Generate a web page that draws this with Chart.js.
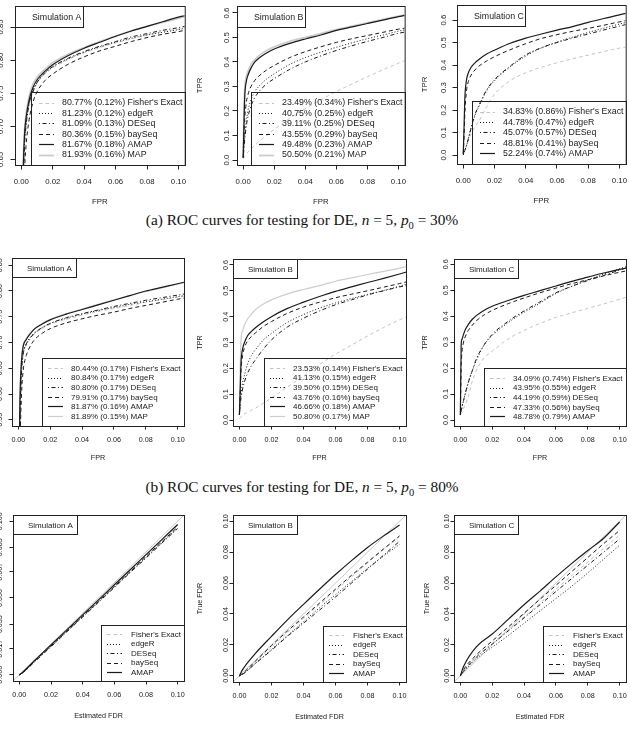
<!DOCTYPE html>
<html>
<head>
<meta charset="utf-8">
<script src="https://cdn.jsdelivr.net/npm/chart.js@4.4.1/dist/chart.umd.min.js"></script>
<style>
html, body { margin: 0; padding: 0; background: #fff; }
body { width: 630px; height: 732px; position: relative; overflow: hidden; }
canvas { position: absolute; }
.cap { position: absolute; left: 0; width: 604px; text-align: center; font-family: "Liberation Serif", "DejaVu Serif", serif; font-size: 15.3px; color: #111; line-height: 17px; }
.cap sub { font-size: 10.5px; line-height: 0; }
</style>
</head>
<body>
<div class="cap" style="top:211px">(a) ROC curves for testing for DE, <i>n</i> = 5, <i>p</i><sub>0</sub> = 30%</div>
<div class="cap" style="top:478px">(b) ROC curves for testing for DE, <i>n</i> = 5, <i>p</i><sub>0</sub> = 80%</div>
<div id="wrap"></div>
<script>
// methods, in legend order
var methods = ["Fisher's Exact", "edgeR", "DESeq", "baySeq", "AMAP", "MAP"];

// x values (FPR) the ROC curves are read at
var fprGrid = [0, 0.0005, 0.001, 0.002, 0.003, 0.005, 0.0075, 0.01, 0.015, 0.02, 0.03, 0.04, 0.05, 0.06, 0.07, 0.08, 0.09, 0.1, 0.104];
// x values (estimated FDR) for the FDR curves
var fdrGrid = [0, 0.002, 0.01, 0.02, 0.03, 0.04, 0.05, 0.06, 0.07, 0.08, 0.09, 0.1];

// tick labels
var xTicks = ["0.00", "0.02", "0.04", "0.06", "0.08", "0.10"];
var tprTicksA30 = ["0.65", "0.70", "0.75", "0.80", "0.85"];
var tprTicksA80 = ["0.55", "0.60", "0.65", "0.70", "0.75", "0.80", "0.85"];
var tprTicks = ["0.0", "0.1", "0.2", "0.3", "0.4", "0.5", "0.6"];
var fdrTicksA = ["0.000", "0.017", "0.033", "0.050", "0.067", "0.083", "0.100"];
var fdrTicks = ["0.00", "0.02", "0.04", "0.06", "0.08", "0.10"];

// (a) p0 = 30%
var rocA30 = {
  "Fisher's Exact": [0.40, 0.50, 0.59, 0.67, 0.70, 0.733, 0.752, 0.765, 0.779, 0.788, 0.801, 0.811, 0.819, 0.826, 0.832, 0.838, 0.843, 0.847, 0.849],
  "edgeR":  [0.40, 0.51, 0.60, 0.675, 0.703, 0.735, 0.754, 0.766, 0.780, 0.790, 0.802, 0.812, 0.820, 0.827, 0.833, 0.838, 0.842, 0.846, 0.848],
  "DESeq":  [0.40, 0.50, 0.59, 0.668, 0.70, 0.734, 0.753, 0.766, 0.781, 0.790, 0.803, 0.813, 0.821, 0.828, 0.835, 0.840, 0.845, 0.849, 0.851],
  "baySeq": [0.38, 0.47, 0.56, 0.63, 0.67, 0.71, 0.737, 0.752, 0.769, 0.779, 0.794, 0.805, 0.814, 0.821, 0.828, 0.834, 0.839, 0.843, 0.845],
  "AMAP":   [0.40, 0.52, 0.61, 0.685, 0.712, 0.740, 0.759, 0.770, 0.783, 0.793, 0.807, 0.818, 0.827, 0.836, 0.844, 0.851, 0.858, 0.865, 0.867],
  "MAP":    [0.40, 0.53, 0.62, 0.69, 0.717, 0.745, 0.764, 0.774, 0.786, 0.796, 0.809, 0.819, 0.828, 0.836, 0.844, 0.851, 0.857, 0.863, 0.866]
};
var rocB30 = {
  "Fisher's Exact": [0.005, 0.01, 0.015, 0.025, 0.032, 0.045, 0.06, 0.075, 0.10, 0.125, 0.17, 0.21, 0.245, 0.28, 0.31, 0.34, 0.368, 0.395, 0.405],
  "edgeR":  [0.01, 0.06, 0.10, 0.16, 0.20, 0.245, 0.28, 0.30, 0.33, 0.352, 0.39, 0.418, 0.44, 0.46, 0.478, 0.495, 0.51, 0.526, 0.531],
  "DESeq":  [0.01, 0.05, 0.085, 0.14, 0.175, 0.22, 0.255, 0.278, 0.31, 0.332, 0.37, 0.40, 0.425, 0.447, 0.466, 0.484, 0.50, 0.517, 0.522],
  "baySeq": [0.01, 0.10, 0.17, 0.235, 0.265, 0.30, 0.325, 0.342, 0.367, 0.386, 0.418, 0.442, 0.462, 0.48, 0.495, 0.508, 0.521, 0.534, 0.538],
  "AMAP":   [0.01, 0.15, 0.26, 0.32, 0.345, 0.375, 0.40, 0.415, 0.437, 0.453, 0.476, 0.494, 0.51, 0.529, 0.543, 0.557, 0.571, 0.585, 0.59],
  "MAP":    [0.01, 0.20, 0.29, 0.34, 0.36, 0.39, 0.41, 0.425, 0.447, 0.462, 0.484, 0.50, 0.516, 0.532, 0.546, 0.56, 0.574, 0.587, 0.592]
};
var rocC30 = {
  "Fisher's Exact": [0.0, 0.01, 0.02, 0.04, 0.06, 0.095, 0.125, 0.15, 0.215, 0.27, 0.33, 0.366, 0.39, 0.41, 0.428, 0.444, 0.46, 0.475, 0.48],
  "edgeR":  [0.0, 0.01, 0.02, 0.04, 0.065, 0.12, 0.175, 0.215, 0.285, 0.33, 0.392, 0.44, 0.476, 0.502, 0.524, 0.545, 0.564, 0.582, 0.589],
  "DESeq":  [0.0, 0.01, 0.02, 0.04, 0.065, 0.12, 0.18, 0.22, 0.29, 0.335, 0.395, 0.445, 0.477, 0.50, 0.52, 0.538, 0.556, 0.573, 0.58],
  "baySeq": [0.005, 0.08, 0.18, 0.28, 0.32, 0.355, 0.378, 0.395, 0.418, 0.437, 0.468, 0.495, 0.518, 0.535, 0.55, 0.563, 0.577, 0.592, 0.597],
  "AMAP":   [0.005, 0.12, 0.25, 0.33, 0.36, 0.39, 0.41, 0.425, 0.449, 0.466, 0.497, 0.52, 0.538, 0.555, 0.571, 0.59, 0.607, 0.623, 0.630]
};
var pctA30 = ["80.77% (0.12%)", "81.23% (0.12%)", "81.09% (0.13%)", "80.36% (0.15%)", "81.67% (0.18%)", "81.93% (0.16%)"];
var pctB30 = ["23.49% (0.34%)", "40.75% (0.25%)", "39.11% (0.25%)", "43.55% (0.29%)", "49.48% (0.23%)", "50.50% (0.21%)"];
var pctC30 = ["34.83% (0.86%)", "44.78% (0.47%)", "45.07% (0.57%)", "48.81% (0.41%)", "52.24% (0.74%)"];

// (b) p0 = 80%
var rocA80 = {
  "Fisher's Exact": [0.30, 0.45, 0.55, 0.64, 0.675, 0.695, 0.707, 0.716, 0.727, 0.735, 0.745, 0.753, 0.760, 0.766, 0.772, 0.778, 0.783, 0.788, 0.790],
  "edgeR":  [0.30, 0.45, 0.555, 0.645, 0.678, 0.698, 0.710, 0.718, 0.729, 0.737, 0.747, 0.755, 0.762, 0.768, 0.774, 0.779, 0.784, 0.789, 0.791],
  "DESeq":  [0.30, 0.45, 0.55, 0.643, 0.677, 0.697, 0.709, 0.718, 0.729, 0.737, 0.748, 0.756, 0.763, 0.770, 0.776, 0.782, 0.787, 0.792, 0.794],
  "baySeq": [0.28, 0.40, 0.50, 0.60, 0.645, 0.675, 0.693, 0.705, 0.718, 0.727, 0.738, 0.746, 0.753, 0.759, 0.766, 0.772, 0.778, 0.784, 0.786],
  "AMAP":   [0.30, 0.48, 0.59, 0.665, 0.692, 0.706, 0.717, 0.726, 0.736, 0.744, 0.755, 0.764, 0.773, 0.782, 0.791, 0.800, 0.807, 0.814, 0.817],
  "MAP":    [0.30, 0.49, 0.60, 0.67, 0.695, 0.708, 0.719, 0.727, 0.737, 0.745, 0.756, 0.765, 0.774, 0.783, 0.791, 0.799, 0.806, 0.813, 0.816]
};
var rocB80 = {
  "Fisher's Exact": [0.005, 0.008, 0.012, 0.018, 0.023, 0.03, 0.038, 0.046, 0.066, 0.085, 0.128, 0.17, 0.215, 0.255, 0.29, 0.325, 0.358, 0.388, 0.398],
  "edgeR":  [0.02, 0.07, 0.10, 0.145, 0.17, 0.215, 0.25, 0.272, 0.31, 0.335, 0.378, 0.408, 0.433, 0.453, 0.47, 0.486, 0.501, 0.518, 0.525],
  "DESeq":  [0.02, 0.06, 0.085, 0.12, 0.145, 0.18, 0.21, 0.233, 0.275, 0.31, 0.36, 0.394, 0.422, 0.446, 0.465, 0.484, 0.50, 0.515, 0.52],
  "baySeq": [0.02, 0.10, 0.19, 0.25, 0.277, 0.305, 0.323, 0.337, 0.362, 0.381, 0.413, 0.437, 0.456, 0.473, 0.487, 0.50, 0.514, 0.528, 0.534],
  "AMAP":   [0.02, 0.12, 0.22, 0.275, 0.297, 0.325, 0.343, 0.357, 0.38, 0.40, 0.432, 0.456, 0.478, 0.498, 0.515, 0.532, 0.548, 0.565, 0.572],
  "MAP":    [0.02, 0.20, 0.31, 0.345, 0.365, 0.39, 0.41, 0.427, 0.449, 0.465, 0.488, 0.505, 0.52, 0.537, 0.55, 0.563, 0.575, 0.588, 0.593]
};
var rocC80 = {
  "Fisher's Exact": [0.02, 0.025, 0.03, 0.045, 0.06, 0.09, 0.15, 0.19, 0.24, 0.265, 0.312, 0.345, 0.372, 0.395, 0.413, 0.43, 0.447, 0.465, 0.473],
  "edgeR":  [0.02, 0.035, 0.05, 0.075, 0.10, 0.145, 0.19, 0.228, 0.29, 0.325, 0.375, 0.415, 0.45, 0.487, 0.515, 0.54, 0.562, 0.583, 0.59],
  "DESeq":  [0.02, 0.035, 0.05, 0.075, 0.10, 0.145, 0.19, 0.235, 0.29, 0.33, 0.38, 0.42, 0.455, 0.49, 0.515, 0.537, 0.557, 0.577, 0.585],
  "baySeq": [0.02, 0.20, 0.26, 0.30, 0.32, 0.345, 0.365, 0.382, 0.405, 0.422, 0.448, 0.47, 0.49, 0.508, 0.525, 0.54, 0.555, 0.569, 0.574],
  "AMAP":   [0.02, 0.29, 0.31, 0.33, 0.347, 0.368, 0.388, 0.402, 0.423, 0.438, 0.46, 0.48, 0.498, 0.516, 0.534, 0.55, 0.566, 0.58, 0.585]
};
var pctA80 = ["80.44% (0.17%)", "80.84% (0.17%)", "80.80% (0.17%)", "79.91% (0.17%)", "81.87% (0.16%)", "81.89% (0.15%)"];
var pctB80 = ["23.53% (0.14%)", "41.13% (0.15%)", "39.50% (0.15%)", "43.76% (0.16%)", "46.66% (0.18%)", "50.80% (0.17%)"];
var pctC80 = ["34.09% (0.74%)", "43.95% (0.55%)", "44.19% (0.59%)", "47.33% (0.56%)", "48.78% (0.79%)"];

// true FDR vs estimated FDR
var fdrA = {
  "Fisher's Exact": [0, 0.0015, 0.0095, 0.0192, 0.029, 0.0388, 0.0485, 0.0583, 0.068, 0.0778, 0.0875, 0.0972],
  "edgeR":  [0, 0.0012, 0.009, 0.0185, 0.0282, 0.0378, 0.0475, 0.0572, 0.0668, 0.0765, 0.086, 0.0955],
  "DESeq":  [0, 0.0012, 0.0088, 0.0183, 0.028, 0.0376, 0.0472, 0.0568, 0.0665, 0.076, 0.0857, 0.0952],
  "baySeq": [0, 0.0014, 0.0093, 0.0188, 0.0285, 0.0382, 0.0478, 0.0575, 0.0672, 0.077, 0.0866, 0.0962],
  "AMAP":   [0, 0.0016, 0.0097, 0.0195, 0.0293, 0.039, 0.0488, 0.0586, 0.0684, 0.0782, 0.088, 0.0978]
};
var fdrB = {
  "Fisher's Exact": [0, 0.0015, 0.009, 0.0185, 0.028, 0.037, 0.046, 0.055, 0.064, 0.073, 0.082, 0.09],
  "edgeR":  [0, 0.001, 0.008, 0.017, 0.026, 0.035, 0.044, 0.0525, 0.061, 0.0695, 0.0775, 0.085],
  "DESeq":  [0, 0.001, 0.008, 0.0165, 0.0255, 0.034, 0.0425, 0.051, 0.06, 0.069, 0.078, 0.087],
  "baySeq": [0, 0.0015, 0.0095, 0.0195, 0.029, 0.038, 0.047, 0.056, 0.065, 0.0735, 0.082, 0.0905],
  "AMAP":   [0, 0.004, 0.0145, 0.0255, 0.0362, 0.0462, 0.056, 0.0655, 0.0745, 0.083, 0.0905, 0.0975]
};
var fdrC = {
  "Fisher's Exact": [0, 0.003, 0.0125, 0.021, 0.0295, 0.038, 0.047, 0.056, 0.065, 0.0735, 0.0825, 0.091],
  "edgeR":  [0, 0.0025, 0.011, 0.0185, 0.026, 0.034, 0.042, 0.05, 0.058, 0.0665, 0.0755, 0.0845],
  "DESeq":  [0, 0.003, 0.012, 0.0205, 0.029, 0.0375, 0.046, 0.0545, 0.063, 0.0715, 0.08, 0.0885],
  "baySeq": [0, 0.004, 0.0135, 0.0225, 0.0315, 0.0405, 0.0495, 0.0585, 0.0675, 0.0765, 0.0855, 0.094],
  "AMAP":   [0, 0.006, 0.0187, 0.027, 0.0365, 0.046, 0.0548, 0.064, 0.0727, 0.081, 0.089, 0.0995]
};

// ---- styles ----
var FONT = "'Liberation Sans', Arial, sans-serif";
var INK = "#1a1a1a";
var lineStyle = {
  "Fisher's Exact": { color: "#c4c4c4", dash: [3.5, 3], width: 1, order: 4 },
  "edgeR":  { color: "#1a1a1a", dash: [1, 2], width: 1, order: 3 },
  "DESeq":  { color: "#1a1a1a", dash: [1, 2.5, 4, 2.5], width: 1, order: 2 },
  "baySeq": { color: "#1a1a1a", dash: [4, 3], width: 1, order: 1 },
  "AMAP":   { color: "#1a1a1a", dash: [], width: 1.2, order: 0 },
  "MAP":    { color: "#cdcdcd", dash: [], width: 1.8, order: 5 }
};

var rowStyle = {
  1: { tick: 7.8, leg: 8.8, lh: 10.4, m: 5.3, sx: 8, sl: 15, tx: 31, simW: 68, simH: 21, simTx: 17, tickLen: 4.5, xLab: 17, xTit: 37, mapW: 1.8 },
  2: { tick: 7.2, leg: 8.0, lh: 9.6, m: 5.2, sx: 6, sl: 15, tx: 29, simW: 64, simH: 19, simTx: 15, tickLen: 3.5, xLab: 14, xTit: 32, mapW: 1.2 },
  3: { tick: 7.2, leg: 8.0, lh: 9.5, m: 4.3, sx: 6, sl: 15, tx: 30, simW: 64, simH: 19, simTx: 15, tickLen: 3.5, xLab: 14, xTit: 35, mapW: 1.2 }
};

// box = [left, top, right, bottom] of each plot region on the page
var panels = [
  { row: 1, sim: "A", box: [15, 6, 185, 165], y: [0.6417, 0.8817], yt: tprTicksA30, grid: fprGrid, tab: rocA30, pct: pctA30, xT: "FPR", yT: "TPR", ylab: 14, ytit: 35 },
  { row: 1, sim: "B", box: [237, 6, 405, 165], y: [-0.0204, 0.6285], yt: tprTicks, grid: fprGrid, tab: rocB30, pct: pctB30, xT: "FPR", yT: "TPR", ylab: 10, ytit: 37 },
  { row: 1, sim: "C", box: [457, 5, 626, 164], y: [-0.04, 0.667], yt: tprTicks, grid: fprGrid, tab: rocC30, pct: pctC30, xT: "FPR", yT: "TPR", ylab: 13, ytit: 32 },
  { row: 2, sim: "A", box: [12, 258, 184, 426], y: [0.538, 0.864], yt: tprTicksA80, grid: fprGrid, tab: rocA80, pct: pctA80, xT: "FPR", yT: "TPR", ylab: 12, ytit: 33 },
  { row: 2, sim: "B", box: [233, 259, 406, 426], y: [-0.023, 0.623], yt: tprTicks, grid: fprGrid, tab: rocB80, pct: pctB80, xT: "FPR", yT: "TPR", ylab: 7, ytit: 33 },
  { row: 2, sim: "C", box: [454, 259, 626, 426], y: [-0.023, 0.62], yt: tprTicks, grid: fprGrid, tab: rocC80, pct: pctC80, xT: "FPR", yT: "TPR", ylab: 7.5, ytit: 29 },
  { row: 3, sim: "A", box: [13, 515, 184, 681], y: [-0.004, 0.104], yt: fdrTicksA, grid: fdrGrid, tab: fdrA, pct: null, xT: "Estimated FDR", yT: "True FDR", ylab: 13, ytit: 33, diag: true },
  { row: 3, sim: "B", box: [233, 515, 406, 682], y: [-0.004, 0.104], yt: fdrTicks, grid: fdrGrid, tab: fdrB, pct: null, xT: "Estimated FDR", yT: "True FDR", ylab: 6.5, ytit: 33, diag: true },
  { row: 3, sim: "C", box: [454, 515, 626, 682], y: [-0.004, 0.104], yt: fdrTicks, grid: fdrGrid, tab: fdrC, pct: null, xT: "Estimated FDR", yT: "True FDR", ylab: 7, ytit: 27, diag: true }
];

var YW = 48, XH = 48, PT = 5, PR = 10;

// box, rotated y labels, legend and "Simulation X" tag
var decor = {
  id: "decor",
  afterDraw: function (chart, args, o) {
    var ctx = chart.ctx, a = chart.chartArea, rs = o.rs;
    ctx.save();
    ctx.strokeStyle = "#222";
    ctx.lineWidth = 1;
    ctx.setLineDash([]);
    ctx.strokeRect(a.left + 0.5, a.top + 0.5, a.right - a.left, a.bottom - a.top);

    // y tick labels, parallel to the axis
    var ys = chart.scales.y;
    ctx.fillStyle = INK;
    ctx.font = rs.tick + "px " + FONT;
    ctx.textAlign = "center";
    ctx.textBaseline = "middle";
    ys.ticks.forEach(function (t, i) {
      var py = ys.getPixelForValue(t.value);
      ctx.save();
      ctx.translate(a.left - o.ylab, py);
      ctx.rotate(-Math.PI / 2);
      ctx.fillText(o.yLabels[i], 0, 0);
      ctx.restore();
    });

    // simulation tag
    ctx.strokeRect(a.left + 0.5, a.top + 0.5, rs.simW, rs.simH);
    ctx.font = rs.leg + "px " + FONT;
    ctx.textAlign = "left";
    ctx.fillText("Simulation " + o.sim, a.left + rs.simTx, a.top + rs.simH / 2 + 1);

    // legend
    var items = o.items;
    var widths = items.map(function (it) { return ctx.measureText(it.text).width; });
    var w = Math.round(rs.tx + Math.max.apply(null, widths) + 3);
    var h = Math.round(items.length * rs.lh + 2 * rs.m);
    var x0 = Math.round(a.right - w), y0 = Math.round(a.bottom - h);
    ctx.strokeRect(x0 + 0.5, y0 + 0.5, w, h);
    items.forEach(function (it, i) {
      var ds = chart.data.datasets[it.ds];
      var cy = y0 + rs.m + rs.lh * (i + 0.5);
      ctx.strokeStyle = ds.borderColor;
      ctx.lineWidth = ds.borderWidth;
      ctx.setLineDash(ds.borderDash);
      ctx.beginPath();
      ctx.moveTo(x0 + rs.sx, Math.round(cy) + 0.5);
      ctx.lineTo(x0 + rs.sx + rs.sl, Math.round(cy) + 0.5);
      ctx.stroke();
      ctx.fillStyle = INK;
      ctx.fillText(it.text, x0 + rs.tx, cy + 0.5);
    });
    ctx.restore();
  }
};

var wrap = document.getElementById("wrap");

panels.forEach(function (p) {
  var rs = rowStyle[p.row];
  var bw = p.box[2] - p.box[0], bh = p.box[3] - p.box[1];
  var cv = document.createElement("canvas");
  cv.width = YW + bw + PR;
  cv.height = PT + bh + XH;
  cv.style.left = (p.box[0] - YW) + "px";
  cv.style.top = (p.box[1] - PT) + "px";
  wrap.appendChild(cv);

  var names = methods.filter(function (m) { return p.tab[m]; });
  var datasets = names.map(function (m) {
    var st = lineStyle[m];
    return {
      label: m,
      data: p.grid.map(function (x, j) { return { x: x, y: p.tab[m][j] }; }),
      borderColor: st.color,
      borderWidth: m === "MAP" ? rs.mapW : st.width,
      borderDash: st.dash,
      pointRadius: 0,
      fill: false,
      cubicInterpolationMode: "monotone",
      order: st.order
    };
  });
  var items = names.map(function (m, i) {
    return { ds: i, text: p.pct ? p.pct[i] + " " + m : m };
  });
  if (p.diag) {
    datasets.push({
      label: "y = x",
      data: [{ x: -0.004, y: -0.004 }, { x: 0.104, y: 0.104 }],
      borderColor: "#c8c8c8",
      borderWidth: 1,
      pointRadius: 0,
      fill: false,
      order: 9
    });
  }

  new Chart(cv.getContext("2d"), {
    type: "line",
    data: { datasets: datasets },
    options: {
      responsive: false,
      devicePixelRatio: 1,
      animation: false,
      layout: { padding: { left: 0, top: PT, right: PR, bottom: 0 } },
      plugins: {
        legend: { display: false },
        tooltip: { enabled: false },
        decor: { rs: rs, ylab: p.ylab, yLabels: p.yt, sim: p.sim, items: items }
      },
      scales: {
        x: {
          type: "linear",
          min: -0.004,
          max: 0.104,
          afterBuildTicks: function (s) { s.ticks = xTicks.map(function (v) { return { value: parseFloat(v) }; }); },
          afterFit: function (s) { s.height = XH; },
          ticks: {
            autoSkip: false,
            maxRotation: 0,
            padding: rs.xLab - rs.tickLen - rs.tick / 2,
            color: INK,
            font: { family: FONT, size: rs.tick, lineHeight: 1 },
            callback: function (v, i) { return xTicks[i]; }
          },
          grid: { drawOnChartArea: false, drawTicks: true, tickLength: rs.tickLen, color: "#222" },
          border: { display: false },
          title: {
            display: true,
            text: p.xT,
            color: INK,
            font: { family: FONT, size: rs.tick, lineHeight: 1 },
            padding: { top: 0, bottom: XH - rs.xTit - rs.tick / 2 }
          }
        },
        y: {
          type: "linear",
          min: p.y[0],
          max: p.y[1],
          afterBuildTicks: function (s) { s.ticks = p.yt.map(function (v) { return { value: parseFloat(v) }; }); },
          afterFit: function (s) { s.width = YW; },
          ticks: { display: false },
          grid: { drawOnChartArea: false, drawTicks: true, tickLength: rs.tickLen, color: "#222" },
          border: { display: false },
          title: {
            display: true,
            text: p.yT,
            color: INK,
            font: { family: FONT, size: rs.tick, lineHeight: 1 },
            padding: { top: YW - p.ytit - rs.tick / 2, bottom: 0 }
          }
        }
      }
    },
    plugins: [decor]
  });
});
</script>
</body>
</html>
